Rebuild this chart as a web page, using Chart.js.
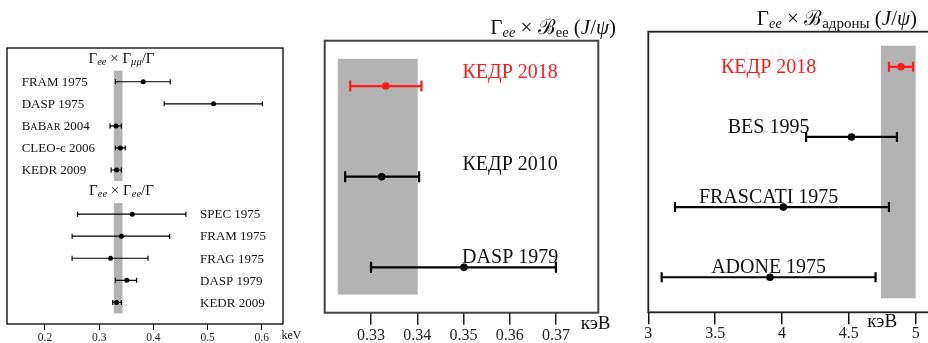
<!DOCTYPE html>
<html>
<head>
<meta charset="utf-8">
<script src="https://cdn.jsdelivr.net/npm/chart.js@4/dist/chart.umd.min.js"></script>
<style>
  html, body { margin: 0; padding: 0; background: #fff; overflow: hidden; }
  body { width: 928px; height: 343px; position: relative; }
  canvas { position: absolute; top: 0; }
</style>
</head>
<body>
<canvas id="c1" width="310" height="343" style="left:0"></canvas>
<canvas id="c2" width="310" height="343" style="left:310px"></canvas>
<canvas id="c3" width="320" height="343" style="left:620px"></canvas>
<script>
// Панель 1: Γee×Γμμ/Γ (верх) и Γee×Γee/Γ (низ), кэВ
const p1TopNames = ['FRAM 1975', 'DASP 1975', 'BaBar 2004', 'CLEO-c 2006', 'KEDR 2009'];
const p1TopVal = [0.381, 0.511, 0.331, 0.339, 0.332];
const p1TopLo = [0.330, 0.420, 0.320, 0.330, 0.322];
const p1TopHi = [0.431, 0.601, 0.341, 0.348, 0.341];
const p1BotNames = ['SPEC 1975', 'FRAM 1975', 'FRAG 1975', 'DASP 1979', 'KEDR 2009'];
const p1BotVal = [0.361, 0.341, 0.321, 0.351, 0.332];
const p1BotLo = [0.260, 0.250, 0.250, 0.330, 0.325];
const p1BotHi = [0.460, 0.430, 0.390, 0.369, 0.341];
const p1Band = [0.327, 0.343];
const p1Ticks = [0.2, 0.3, 0.4, 0.5, 0.6];
const p1TickLabels = ['0.2', '0.3', '0.4', '0.5', '0.6'];

// Панель 2: Γee × Bee(J/ψ)
const p2Names = ['КЕДР 2018', 'КЕДР 2010', 'DASP 1979'];
const p2Val = [0.3332, 0.3323, 0.3501];
const p2Lo = [0.3255, 0.3244, 0.3300];
const p2Hi = [0.3409, 0.3404, 0.3700];
const p2Band = [0.3228, 0.3401];
const p2Ticks = [0.33, 0.34, 0.35, 0.36, 0.37];
const p2TickLabels = ['0.33', '0.34', '0.35', '0.36', '0.37'];

// Панель 3: Γee × Bадроны(J/ψ)
const p3Names = ['КЕДР 2018', 'BES 1995', 'FRASCATI 1975', 'ADONE 1975'];
const p3Val = [4.89, 4.52, 4.01, 3.91];
const p3Lo = [4.80, 4.18, 3.20, 3.10];
const p3Hi = [4.98, 4.86, 4.80, 4.70];
const p3Band = [4.74, 5.00];
const p3Ticks = [3, 3.5, 4, 4.5, 5];
const p3TickLabels = ['3', '3.5', '4', '4.5', '5'];

const SERIF = '"Liberation Serif", "DejaVu Serif", serif';
const RED = '#ff1a1a';

function fnt(size, style) {
  return (style || '') + ' ' + size + 'px ' + SERIF;
}

// рисует строку из кусков [текст, размер, стиль, сдвиг по y]
function drawRich(ctx, parts, x, y, align, color) {
  let w = 0;
  parts.forEach(p => { ctx.font = fnt(p[1], p[2]); w += ctx.measureText(p[0]).width; });
  let cx = align === 'center' ? x - w / 2 : (align === 'right' ? x - w : x);
  ctx.fillStyle = color || '#111';
  ctx.textAlign = 'left';
  ctx.textBaseline = 'alphabetic';
  parts.forEach(p => {
    ctx.font = fnt(p[1], p[2]);
    ctx.fillText(p[0], cx, y + (p[3] || 0));
    cx += ctx.measureText(p[0]).width;
  });
}

function makeChart(id, cfg) {
  const rows = cfg.rows;
  const points = cfg.val.map((v, i) => ({ x: v, y: rows[i] }));

  const errPlugin = {
    id: 'err_' + id,
    beforeDatasetsDraw(chart) {
      const { ctx, scales: { x, y } } = chart;
      ctx.save();
      // серая полоса
      ctx.fillStyle = '#b3b3b3';
      cfg.bandRows.forEach(br => {
        const x0 = x.getPixelForValue(cfg.band[0]);
        const x1 = x.getPixelForValue(cfg.band[1]);
        const y0 = y.getPixelForValue(br[0]);
        const y1 = y.getPixelForValue(br[1]);
        ctx.fillRect(x0, y0, x1 - x0, y1 - y0);
      });
      // ошибки
      ctx.lineWidth = cfg.errWidth;
      cfg.val.forEach((v, i) => {
        const py = y.getPixelForValue(rows[i]);
        const xl = x.getPixelForValue(cfg.lo[i]);
        const xh = x.getPixelForValue(cfg.hi[i]);
        ctx.strokeStyle = cfg.colors[i];
        ctx.beginPath();
        ctx.moveTo(xl, py); ctx.lineTo(xh, py);
        ctx.moveTo(xl, py - cfg.cap); ctx.lineTo(xl, py + cfg.cap);
        ctx.moveTo(xh, py - cfg.cap); ctx.lineTo(xh, py + cfg.cap);
        ctx.stroke();
      });
      ctx.restore();
    },
    afterDraw(chart) {
      const { ctx, chartArea, scales: { x, y } } = chart;
      ctx.save();
      // рамка
      ctx.strokeStyle = cfg.frameColor;
      ctx.lineWidth = cfg.frameWidth;
      ctx.strokeRect(chartArea.left, chartArea.top, chartArea.right - chartArea.left, chartArea.bottom - chartArea.top);
      // подписи экспериментов
      cfg.names.forEach((n, i) => {
        const px = x.getPixelForValue(cfg.labelX[i]);
        const py = y.getPixelForValue(rows[i]) + cfg.labelDy[i];
        const parts = n === 'BaBar 2004'
          ? [['B', cfg.labelSize], ['A', cfg.labelSize * 0.78], ['B', cfg.labelSize], ['AR', cfg.labelSize * 0.78], [' 2004', cfg.labelSize]]
          : [[n, cfg.labelSize]];
        drawRich(ctx, parts, px, py, cfg.labelAlign[i], cfg.colors[i] === 'black' ? '#111' : cfg.colors[i]);
      });
      cfg.titles.forEach(t => drawRich(ctx, t.parts, t.x, t.y, t.align, '#111'));
      drawRich(ctx, [[cfg.unit.text, cfg.unit.size]], cfg.unit.x, cfg.unit.y, 'left', '#111');
      ctx.restore();
    }
  };

  return new Chart(document.getElementById(id), {
    type: 'scatter',
    data: {
      datasets: [{
        data: points,
        pointRadius: cfg.pointR,
        pointBackgroundColor: cfg.colors,
        pointBorderColor: cfg.colors,
        pointBorderWidth: 0
      }]
    },
    options: {
      responsive: false,
      animation: false,
      events: [],
      layout: { padding: cfg.padding },
      plugins: { legend: { display: false }, tooltip: { enabled: false } },
      scales: {
        x: {
          type: 'linear',
          position: 'bottom',
          min: cfg.xMin,
          max: cfg.xMax,
          afterBuildTicks: axis => { axis.ticks = cfg.ticks.map(v => ({ value: v })); },
          afterFit: axis => { axis.height = cfg.axisH; },
          border: { display: false },
          grid: { drawOnChartArea: false, drawTicks: true, tickLength: cfg.tickLen, color: cfg.tickColor, lineWidth: cfg.tickWidth },
          ticks: {
            autoSkip: false, maxRotation: 0, padding: cfg.tickPad, color: '#222',
            font: { family: SERIF, size: cfg.tickSize },
            callback: (v, i) => cfg.tickLabels[i]
          }
        },
        y: { type: 'linear', display: false, reverse: true, min: cfg.yMin, max: cfg.yMax }
      }
    },
    plugins: [errPlugin]
  });
}

// панель 1
makeChart('c1', {
  names: p1TopNames.concat(p1BotNames),
  val: p1TopVal.concat(p1BotVal),
  lo: p1TopLo.concat(p1BotLo),
  hi: p1TopHi.concat(p1BotHi),
  rows: [1, 2, 3, 4, 5, 7, 8, 9, 10, 11],
  colors: Array(10).fill('black'),
  band: p1Band,
  bandRows: [[0.5, 5.5], [6.5, 11.5]],
  ticks: p1Ticks, tickLabels: p1TickLabels,
  xMin: 0.1299, xMax: 0.6391, yMin: -0.53, yMax: 11.98,
  padding: { left: 7, right: 27, top: 48, bottom: 0 },
  axisH: 19, tickLen: 6, tickPad: 1, tickSize: 11.5, tickColor: '#000', tickWidth: 1,
  errWidth: 1.2, cap: 2.5, pointR: 2.5,
  frameColor: '#000', frameWidth: 1.3,
  labelX: [0.157, 0.157, 0.157, 0.157, 0.157, 0.486, 0.486, 0.486, 0.486, 0.486],
  labelDy: Array(10).fill(4.3), labelAlign: Array(10).fill('left'), labelSize: 13,
  titles: [
    { x: 121.5, y: 63, align: 'center', parts: [['Γ', 15], ['ee', 10.5, 'italic', 2], [' × Γ', 15], ['μμ', 10.5, 'italic', 2], ['/Γ', 15]] },
    { x: 121.5, y: 195, align: 'center', parts: [['Γ', 15], ['ee', 10.5, 'italic', 2], [' × Γ', 15], ['ee', 10.5, 'italic', 2], ['/Γ', 15]] }
  ],
  unit: { text: 'keV', size: 12, x: 281.5, y: 339 }
});

// панель 2
makeChart('c2', {
  names: p2Names, val: p2Val, lo: p2Lo, hi: p2Hi,
  rows: [0, 1, 2],
  colors: [RED, 'black', 'black'],
  band: p2Band,
  bandRows: [[-0.3, 2.3]],
  ticks: p2Ticks, tickLabels: p2TickLabels,
  xMin: 0.31998, xMax: 0.37916, yMin: -0.5, yMax: 2.5,
  padding: { left: 14.7, right: 21.7, top: 40.7, bottom: 0 },
  axisH: 30.3, tickLen: 12, tickPad: 1, tickSize: 16, tickColor: '#222', tickWidth: 1.5,
  errWidth: 2.2, cap: 5.5, pointR: 3.8,
  frameColor: '#444', frameWidth: 2,
  labelX: [0.3601, 0.3601, 0.3601],
  labelDy: [-7.7, -6.7, -4.4], labelAlign: ['center', 'center', 'center'], labelSize: 20,
  titles: [
    { x: 306, y: 33.5, align: 'right', parts: [['Γ', 21], ['ee', 14.5, 'italic', 3], [' × ', 21], ['ℬ', 21], ['ee', 14.5, '', 3], [' (', 21], ['J', 21, 'italic'], ['/', 21], ['ψ', 21, 'italic'], [')', 21]] }
  ],
  unit: { text: 'кэВ', size: 19, x: 270.7, y: 329.3 }
});

// панель 3
makeChart('c3', {
  names: p3Names, val: p3Val, lo: p3Lo, hi: p3Hi,
  rows: [0, 1, 2, 3],
  colors: [RED, 'black', 'black', 'black'],
  band: p3Band,
  bandRows: [[-0.3, 3.3]],
  ticks: p3Ticks, tickLabels: p3TickLabels,
  xMin: 3.0, xMax: 5.1445, yMin: -0.5, yMax: 3.5,
  padding: { left: 28.3, right: 5, top: 31.7, bottom: 0 },
  axisH: 30.7, tickLen: 12, tickPad: 0, tickSize: 16, tickColor: '#111', tickWidth: 1.5,
  errWidth: 2.2, cap: 5, pointR: 3.8,
  frameColor: '#222', frameWidth: 1.8,
  labelX: [3.9, 3.9, 3.9, 3.9],
  labelDy: [6, -4, -4, -4], labelAlign: ['center', 'center', 'center', 'center'], labelSize: 20,
  titles: [
    { x: 297, y: 25, align: 'right', parts: [['Γ', 21], ['ee', 14.5, 'italic', 3], [' × ', 21], ['ℬ', 21], ['адроны', 15, '', 3], [' (', 21], ['J', 21, 'italic'], ['/', 21], ['ψ', 21, 'italic'], [')', 21]] }
  ],
  unit: { text: 'кэВ', size: 19, x: 247.3, y: 326.7 }
});
</script>
</body>
</html>
